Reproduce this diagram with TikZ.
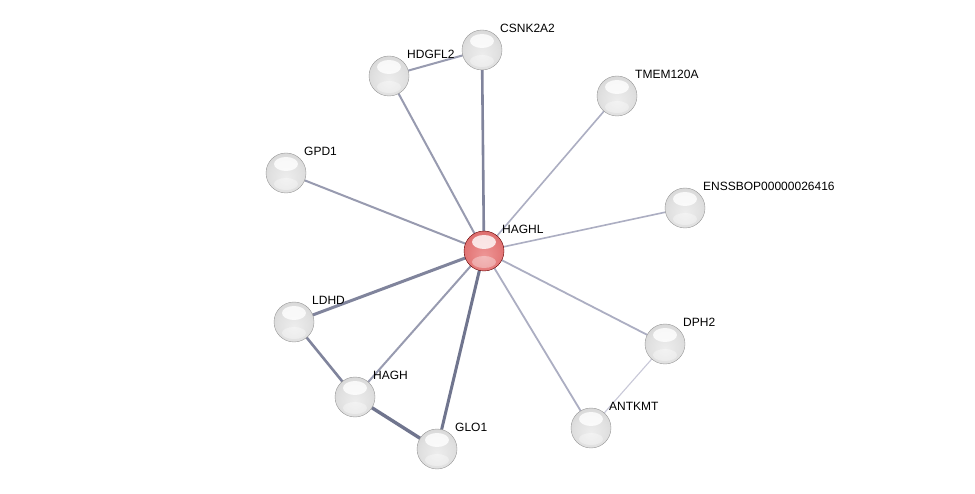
\documentclass[tikz,border=0pt]{standalone}
\usepackage{fontspec}
\setmainfont{Liberation Sans}
\pgfdeclareradialshading{grayball}{\pgfpoint{0bp}{-6bp}}{%
  color(0bp)=(white!93!black);
  color(20bp)=(white!88!black);
  color(36bp)=(white!82!black);
  color(46bp)=(white!72!black);
  color(52bp)=(white!58!black);
  color(60bp)=(white!50!black)}
\pgfdeclareradialshading{redball}{\pgfpoint{0bp}{-6bp}}{%
  color(0bp)=(rgb,255:red,238;green,150;blue,150);
  color(20bp)=(rgb,255:red,228;green,122;blue,122);
  color(36bp)=(rgb,255:red,214;green,100;blue,100);
  color(46bp)=(rgb,255:red,196;green,80;blue,80);
  color(52bp)=(rgb,255:red,170;green,60;blue,60);
  color(60bp)=(rgb,255:red,140;green,45;blue,45)}
\definecolor{eA}{RGB}{112,117,142}
\definecolor{eB}{RGB}{128,132,156}
\definecolor{eC}{RGB}{152,155,176}
\definecolor{eD}{RGB}{172,174,194}
\definecolor{eE}{RGB}{200,200,216}
\tikzset{
  ball/.style={circle,minimum size=40pt,inner sep=0pt,shading=grayball,draw=white!60!black,line width=0.4pt},
  hball/.style={circle,minimum size=40pt,inner sep=0pt,shading=redball,draw=black!20!red!50!black,line width=0.4pt},
  lbl/.style={anchor=west,inner sep=0pt,font=\fontsize{12pt}{14pt}\selectfont,text=black},
  edge/.style={line cap=round}
}
\begin{document}
\begin{tikzpicture}[x=1pt,y=-1pt]
\useasboundingbox (0,0) rectangle (975,494);
\fill[white] (0,0) rectangle (975,494);
% coordinates of centers
\coordinate (cHAGHL) at (484,251);
\coordinate (cCSNK) at (482,50);
\coordinate (cHDGF) at (389,76);
\coordinate (cTMEM) at (617,96);
\coordinate (cGPD) at (286,173);
\coordinate (cENS) at (685,208);
\coordinate (cLDHD) at (294,322);
\coordinate (cHAGH) at (355,397);
\coordinate (cGLO) at (437,449);
\coordinate (cANT) at (591,428);
\coordinate (cDPH) at (665,344);
% edges
\draw[edge,eC,line width=2pt] (cHDGF) -- (cCSNK);
\draw[edge,eB,line width=2.6pt] (cHAGHL) -- (cCSNK);
\draw[edge,eC,line width=2pt] (cHAGHL) -- (cHDGF);
\draw[edge,eD,line width=1.6pt] (cHAGHL) -- (cTMEM);
\draw[edge,eC,line width=2pt] (cHAGHL) -- (cGPD);
\draw[edge,eD,line width=1.6pt] (cHAGHL) -- (cENS);
\draw[edge,eB,line width=3pt] (cHAGHL) -- (cLDHD);
\draw[edge,eC,line width=2pt] (cHAGHL) -- (cHAGH);
\draw[edge,eA,line width=3pt] (cHAGHL) -- (cGLO);
\draw[edge,eD,line width=1.8pt] (cHAGHL) -- (cANT);
\draw[edge,eD,line width=1.8pt] (cHAGHL) -- (cDPH);
\draw[edge,eE,line width=1.1pt] (cDPH) -- (cANT);
\draw[edge,eB,line width=2.6pt] (cLDHD) -- (cHAGH);
\draw[edge,eA,line width=3.4pt] (cHAGH) -- (cGLO);
% nodes
\node[ball] (CSNK) at (cCSNK) {};
\node[ball] (HDGF) at (cHDGF) {};
\node[ball] (TMEM) at (cTMEM) {};
\node[ball] (GPD) at (cGPD) {};
\node[ball] (ENS) at (cENS) {};
\node[ball] (LDHD) at (cLDHD) {};
\node[ball] (HAGH) at (cHAGH) {};
\node[ball] (GLO) at (cGLO) {};
\node[ball] (ANT) at (cANT) {};
\node[ball] (DPH) at (cDPH) {};
\node[hball] (HAGHL) at (cHAGHL) {};
% highlights
\foreach \n in {CSNK,HDGF,TMEM,GPD,ENS,LDHD,HAGH,GLO,ANT,DPH,HAGHL}{
  \fill[white,opacity=0.8] ([yshift=9pt]\n.center) ellipse [x radius=12pt,y radius=7pt];
  \fill[white,opacity=0.35] ([yshift=-11pt]\n.center) ellipse [x radius=12pt,y radius=6pt];
}
% labels
\node[lbl] (lHAGHL) at ([xshift=18pt,yshift=22pt]cHAGHL) {HAGHL};
\node[lbl] (lCSNK) at ([xshift=18pt,yshift=22pt]cCSNK) {CSNK2A2};
\node[lbl] (lHDGF) at ([xshift=18pt,yshift=22pt]cHDGF) {HDGFL2};
\node[lbl] (lTMEM) at ([xshift=18pt,yshift=22pt]cTMEM) {TMEM120A};
\node[lbl] (lGPD) at ([xshift=18pt,yshift=22pt]cGPD) {GPD1};
\node[lbl] (lENS) at ([xshift=18pt,yshift=22pt]cENS) {ENSSBOP00000026416};
\node[lbl] (lLDHD) at ([xshift=18pt,yshift=22pt]cLDHD) {LDHD};
\node[lbl] (lHAGH) at ([xshift=18pt,yshift=22pt]cHAGH) {HAGH};
\node[lbl] (lGLO) at ([xshift=18pt,yshift=22pt]cGLO) {GLO1};
\node[lbl] (lANT) at ([xshift=18pt,yshift=22pt]cANT) {ANTKMT};
\node[lbl] (lDPH) at ([xshift=18pt,yshift=22pt]cDPH) {DPH2};
\end{tikzpicture}
\end{document}
